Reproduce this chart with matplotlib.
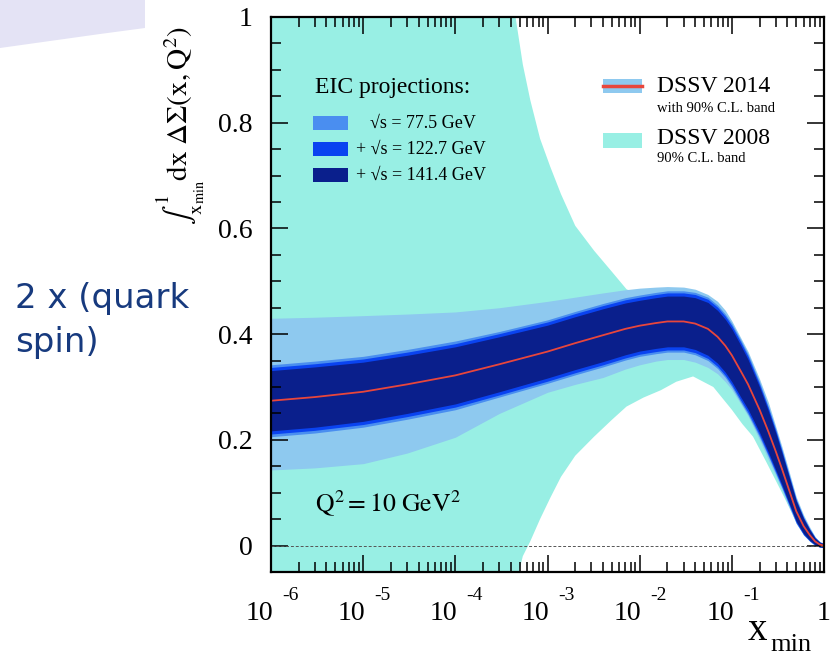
import numpy as np
import matplotlib
matplotlib.use('Agg')
import matplotlib.pyplot as plt
from matplotlib.patches import Rectangle, Polygon
from matplotlib.ticker import FixedLocator, LogLocator, MultipleLocator, NullFormatter

plt.rcParams['font.family'] = ['Liberation Serif', 'DejaVu Serif']
plt.rcParams['mathtext.fontset'] = 'stix'

# DSSV 2014 central value, 90% C.L. band and EIC projected uncertainties
x_14 = [1e-6, 3e-6, 1e-5, 3e-5, 1e-4, 3e-4, 1e-3, 2e-3, 4e-3, 7e-3,
        1e-2, 1.5e-2, 2e-2, 3e-2, 4e-2, 5.5e-2, 7e-2, 8.5e-2, 0.1, 0.125,
        0.15, 0.2, 0.25, 0.3, 0.35, 0.4, 0.5, 0.6, 0.7, 0.8, 0.9, 1.0]
central = [0.274, 0.281, 0.291, 0.305, 0.322, 0.343, 0.367, 0.383, 0.398, 0.41,
           0.416, 0.421, 0.424, 0.424, 0.42, 0.41, 0.395, 0.378, 0.36, 0.33,
           0.305, 0.257, 0.215, 0.178, 0.145, 0.115, 0.065, 0.037, 0.02, 0.008,
           0.002, 0.0]
band14_hi = [0.43, 0.432, 0.435, 0.438, 0.442, 0.45, 0.462, 0.47, 0.478, 0.484,
             0.487, 0.489, 0.49, 0.489, 0.485, 0.475, 0.462, 0.445, 0.425, 0.393,
             0.367, 0.315, 0.27, 0.225, 0.187, 0.152, 0.092, 0.058, 0.035, 0.017,
             0.006, 0.003]
band14_lo = [0.143, 0.147, 0.155, 0.175, 0.205, 0.25, 0.29, 0.305, 0.318, 0.334,
             0.342, 0.349, 0.352, 0.352, 0.347, 0.337, 0.325, 0.31, 0.295, 0.268,
             0.245, 0.2, 0.162, 0.132, 0.105, 0.08, 0.042, 0.022, 0.01, 0.002,
             -0.002, -0.003]
eic77_hw = [0.068, 0.068, 0.067, 0.066, 0.065, 0.062, 0.06, 0.06, 0.06, 0.059,
            0.058, 0.058, 0.058, 0.058, 0.059, 0.06, 0.06, 0.06, 0.06, 0.059,
            0.057, 0.052, 0.047, 0.042, 0.036, 0.031, 0.023, 0.017, 0.012, 0.008,
            0.005, 0.004]
eic122_hw = [0.063, 0.063, 0.062, 0.061, 0.06, 0.058, 0.056, 0.056, 0.056, 0.055,
             0.054, 0.054, 0.054, 0.054, 0.055, 0.056, 0.056, 0.056, 0.056, 0.055,
             0.053, 0.048, 0.044, 0.039, 0.034, 0.029, 0.021, 0.016, 0.011, 0.007,
             0.005, 0.004]
eic141_hw = [0.057, 0.057, 0.056, 0.055, 0.054, 0.052, 0.05, 0.05, 0.05, 0.049,
             0.048, 0.048, 0.048, 0.048, 0.049, 0.05, 0.05, 0.05, 0.05, 0.049,
             0.047, 0.043, 0.039, 0.035, 0.03, 0.026, 0.019, 0.014, 0.01, 0.006,
             0.004, 0.003]

# DSSV 2008 90% C.L. band
x_08 = [1e-6, 1e-4, 2.5e-4, 3.5e-4, 4.5e-4, 5.4e-4, 6.5e-4, 8.3e-4, 1.07e-3, 1.4e-3,
        2e-3, 3.2e-3, 5e-3, 7.2e-3, 1.1e-2, 1.7e-2, 2.5e-2, 3.8e-2, 6.3e-2, 0.1,
        0.13, 0.17, 0.24, 0.35, 0.5, 0.7, 1.0]
band08_hi = [1.6, 1.6, 1.4, 1.15, 1.0, 0.91, 0.843, 0.77, 0.717, 0.665,
             0.605, 0.558, 0.518, 0.485, 0.47, 0.465, 0.46, 0.45, 0.43, 0.39,
             0.36, 0.32, 0.25, 0.17, 0.08, 0.025, 0.0]
band08_lo = [-0.3, -0.3, -0.2, -0.13, -0.075, -0.02, 0.008, 0.05, 0.09, 0.13,
             0.17, 0.206, 0.238, 0.263, 0.28, 0.294, 0.31, 0.32, 0.3, 0.257,
             0.23, 0.206, 0.156, 0.1, 0.045, 0.01, 0.0]

xtick_vals = [1e-6, 1e-5, 1e-4, 1e-3, 1e-2, 1e-1, 1]
xtick_base = ['10', '10', '10', '10', '10', '10', '1']
xtick_exp = ['-6', '-5', '-4', '-3', '-2', '-1', '']
ytick_vals = [0, 0.2, 0.4, 0.6, 0.8, 1.0]
ytick_labels = ['0', '0.2', '0.4', '0.6', '0.8', '1']

c_08 = '#98efe4'
c_14 = '#8ec9ef'
c_77 = '#4a8ef0'
c_122 = '#0a43f0'
c_141 = '#0a1f8c'
c_red = '#e8463c'

W, H = 831, 657
fig = plt.figure(figsize=(W / 100, H / 100), dpi=100)

def fx(px):
    return px / W

def fy(py):
    return 1 - py / H

# slide decoration top-left
fig.add_artist(Polygon([(fx(0), fy(0)), (fx(145), fy(0)), (fx(145), fy(28)),
                        (fx(100), fy(34)), (fx(50), fy(41)), (fx(0), fy(48))],
                       closed=True, transform=fig.transFigure,
                       facecolor='#e4e3f5', edgecolor='none'))

ax = fig.add_axes([fx(271), fy(572), fx(824) - fx(271), fy(17) - fy(572)])

xc = np.array(x_14)
cc = np.array(central)
ax.fill_between(x_08, band08_lo, band08_hi, color=c_08, lw=0)
ax.axhline(0, color='#555555', lw=0.7, ls=(0, (3, 2)))
ax.fill_between(xc, band14_lo, band14_hi, color=c_14, lw=0)
ax.fill_between(xc, cc - np.array(eic77_hw), cc + np.array(eic77_hw), color=c_77, lw=0)
ax.fill_between(xc, cc - np.array(eic122_hw), cc + np.array(eic122_hw), color=c_122, lw=0)
ax.fill_between(xc, cc - np.array(eic141_hw), cc + np.array(eic141_hw), color=c_141, lw=0)
ax.plot(xc, cc, color=c_red, lw=1.3)

ax.set_xscale('log')
ax.set_xlim(1e-6, 1)
ax.set_ylim(-0.05, 1.0)
ax.xaxis.set_major_locator(FixedLocator(xtick_vals))
ax.xaxis.set_major_formatter(NullFormatter())
ax.xaxis.set_minor_locator(LogLocator(base=10, subs=np.arange(2, 10), numticks=20))
ax.xaxis.set_minor_formatter(NullFormatter())
ax.yaxis.set_major_locator(FixedLocator(ytick_vals))
ax.set_yticklabels(ytick_labels)
ax.yaxis.set_minor_locator(MultipleLocator(0.05))
ax.tick_params(which='both', direction='in', top=True, right=True, width=1.1)
ax.tick_params(which='major', length=12, labelsize=20)
ax.tick_params(which='minor', length=7)
ax.tick_params(axis='y', pad=13)
for s in ax.spines.values():
    s.set_linewidth(1.6)

# ROOT-style log labels: "10" left of the tick, exponent raised to the right
for v, b, e in zip(xtick_vals, xtick_base, xtick_exp):
    if e:
        ax.annotate(b, xy=(v, 0), xycoords=('data', 'axes fraction'),
                    xytext=(2, -48), textcoords='offset pixels', ha='right',
                    va='baseline', fontsize=20, annotation_clip=False)
        ax.annotate(e, xy=(v, 0), xycoords=('data', 'axes fraction'),
                    xytext=(11, -28), textcoords='offset pixels', ha='left',
                    va='baseline', fontsize=14, annotation_clip=False)
    else:
        ax.annotate(b, xy=(v, 0), xycoords=('data', 'axes fraction'),
                    xytext=(0, -48), textcoords='offset pixels', ha='center',
                    va='baseline', fontsize=20, annotation_clip=False)

# axis titles
fig.text(fx(748), fy(640), 'x', fontsize=28, ha='left', va='baseline')
fig.text(fx(770), fy(651), 'min', fontsize=19, ha='left', va='baseline')
fig.text(fx(207), fy(26),
         r'$\int_{\mathrm{x}_{\mathrm{min}}}^{1}\mathrm{dx}\ \Delta\Sigma(\mathrm{x,Q}^{2})$',
         fontsize=21, rotation=90, ha='right', va='top')

# EIC legend
fig.text(fx(315), fy(88), 'EIC projections:', fontsize=17, va='center')
eic_cols = [c_77, c_122, c_141]
eic_txt = ['\u221as = 77.5 GeV', '+ \u221as = 122.7 GeV', '+ \u221as = 141.4 GeV']
eic_tx = [370, 356, 356]
for i, (col, t) in enumerate(zip(eic_cols, eic_txt)):
    y0 = 116 + 26 * i
    fig.add_artist(Rectangle((fx(313), fy(y0 + 14)), fx(35), 14 / H,
                             transform=fig.transFigure, facecolor=col, edgecolor='none'))
    fig.text(fx(eic_tx[i]), fy(y0 + 7), t, fontsize=13, va='center')

# DSSV legend
fig.add_artist(Rectangle((fx(603), fy(93)), fx(39), 14 / H, transform=fig.transFigure,
                         facecolor=c_14, edgecolor='none'))
fig.add_artist(plt.Line2D([fx(603), fx(642)], [fy(86), fy(86)], transform=fig.transFigure,
                          color=c_red, lw=2.5))
fig.text(fx(657), fy(86), 'DSSV 2014', fontsize=17, va='center')
fig.text(fx(657), fy(109), 'with 90% C.L. band', fontsize=10.5, va='center')
fig.add_artist(Rectangle((fx(603), fy(148)), fx(39), 15 / H, transform=fig.transFigure,
                         facecolor=c_08, edgecolor='none'))
fig.text(fx(657), fy(139), 'DSSV 2008', fontsize=17, va='center')
fig.text(fx(657), fy(158), '90% C.L. band', fontsize=10.5, va='center')

fig.text(fx(315), fy(512), r'$\mathrm{Q}^2 = 10\ \mathrm{GeV}^2$', fontsize=18.5,
         va='baseline')

fig.text(fx(15), fy(308), '2 x (quark', fontsize=24.5, color='#173a7e',
         family=['DejaVu Sans'], va='baseline', ha='left')
fig.text(fx(15), fy(352), 'spin)', fontsize=24.5, color='#173a7e',
         family=['DejaVu Sans'], va='baseline', ha='left')

fig.savefig('out.png', dpi=100)
